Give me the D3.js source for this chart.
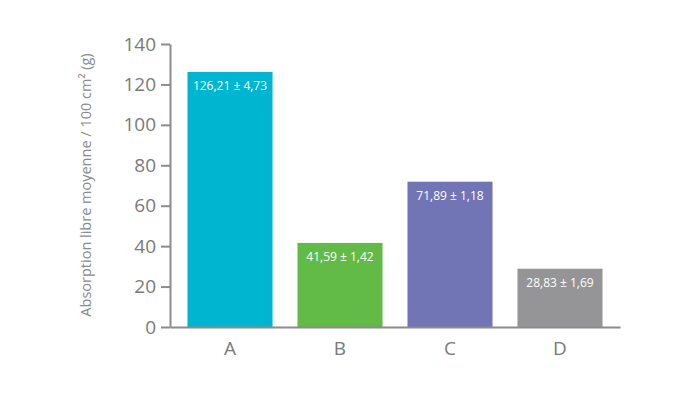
<!DOCTYPE html>
<html><head><meta charset="utf-8">
<script src="https://cdn.jsdelivr.net/npm/d3@7"></script>
<style>body{margin:0;background:#fff}svg{display:block}</style>
</head><body><svg id="c" width="700" height="393"></svg>
<script>
const categories = ["A","B","C","D"];
const values = [126.21, 41.59, 71.89, 28.83];
const errors = ["4,73","1,42","1,18","1,69"];
const valueLabels = ["126,21","41,59","71,89","28,83"];
const colors = ["#00b5d0","#62bb46","#7174b5","#959597"];
const yTicks = [0,20,40,60,80,100,120,140];
const yTitle = "Absorption libre moyenne / 100 cm² (g)";

const svg = d3.select("#c");
const axisColor = "#8c8c8c", textColor = "#7a7a7a";
const x = d3.scaleBand().domain(categories).range([170,620]).paddingInner(0.227).paddingOuter(0.159);
const y = d3.scaleLinear().domain([0,140]).range([327,44]);

svg.selectAll("rect.bar").data(values).enter().append("rect")
  .attr("x",(d,i)=>x(categories[i])).attr("width",x.bandwidth())
  .attr("y",d=>y(d)).attr("height",d=>y(0)-y(d)).attr("fill",(d,i)=>colors[i]);

svg.selectAll("text.vl").data(values).enter().append("text")
  .attr("x",(d,i)=>x(categories[i])+x.bandwidth()/2).attr("y",d=>y(d)+18)
  .attr("text-anchor","middle").attr("fill","#fff")
  .style("font-family","'Open Sans', sans-serif").style("font-size","12px").style("font-weight","500")
  .text((d,i)=>valueLabels[i]+" ± "+errors[i]);

const ya = svg.append("g").attr("transform","translate(170,0)")
  .call(d3.axisLeft(y).tickValues(yTicks).tickSize(9).tickPadding(5).tickSizeOuter(0));
ya.select(".domain").attr("stroke",axisColor).attr("stroke-width",2);
ya.selectAll(".tick line").attr("stroke",axisColor).attr("stroke-width",2);
ya.selectAll(".tick text").attr("fill",textColor).style("font-family","'Open Sans', sans-serif").style("font-size","19px").style("font-weight","400");

const xa = svg.append("g").attr("transform","translate(0,327)")
  .call(d3.axisBottom(x).tickSize(0).tickPadding(15).tickSizeOuter(0));
xa.select(".domain").attr("stroke",axisColor).attr("stroke-width",2);
xa.selectAll(".tick text").attr("fill",textColor).style("font-family","'Open Sans', sans-serif").style("font-size","19px").style("font-weight","400");

svg.append("text").attr("transform","translate(91,185) rotate(-90)")
  .attr("text-anchor","middle").attr("fill","#8a8a8a")
  .style("font-family","'Open Sans', sans-serif").style("font-size","14.5px")
  .text(yTitle);
</script></body></html>
